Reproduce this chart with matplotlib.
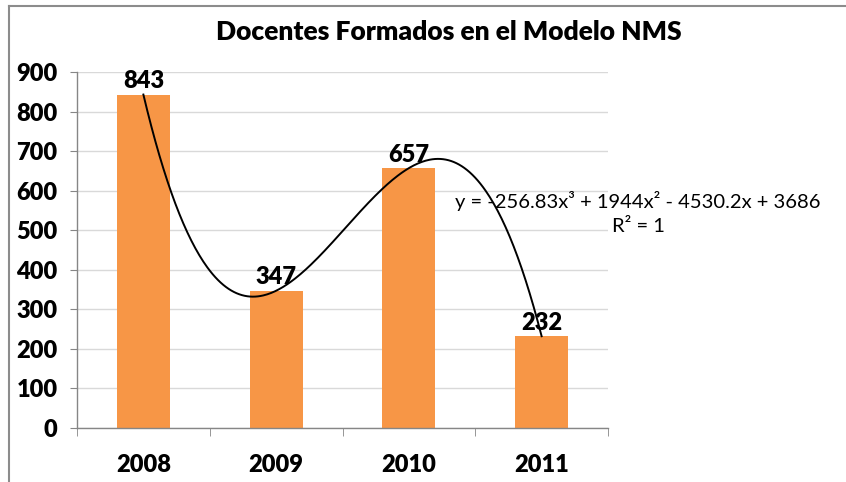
import matplotlib.pyplot as plt
import numpy as np

years = ['2008', '2009', '2010', '2011']
docentes = [843, 347, 657, 232]
title = 'Docentes Formados en el Modelo NMS'
eq_text = 'y = -256.83x³ + 1944x² - 4530.2x + 3686'
r2_text = 'R² = 1'

plt.rcParams['font.family'] = ['Lato', 'DejaVu Sans']
bold = 'heavy'

fig = plt.figure(figsize=(8.46, 4.82), dpi=100)
ax = fig.add_axes([77/846, 54/482, (608-77)/846, (428-72)/482])

x = np.arange(len(years))
ax.bar(x, docentes, width=0.4, color='#F79646', zorder=2)

# cubic trendline through the four points (Excel x = 1..4)
xs = x + 1
coef = np.polyfit(xs, docentes, 3)
xf = np.linspace(1, 4, 300)
ax.plot(xf - 1, np.polyval(coef, xf), color='black', lw=1.4, zorder=3)

for xi, v in zip(x, docentes):
    ax.text(xi, v + 6, str(v), ha='center', va='bottom', fontsize=17,
            fontweight=bold, zorder=4)

ax.set_xlim(-0.5, 3.5)
ax.set_ylim(0, 900)
ax.set_yticks(range(0, 901, 100))
ax.yaxis.grid(True, color='#D9D9D9', lw=1)
ax.set_axisbelow(True)

ax.set_xticks(x)
ax.set_xticklabels(years)
ax.set_xticks(np.arange(-0.5, 3.6, 1), minor=True)
ax.tick_params(axis='x', which='major', length=0, pad=19, labelsize=17)
ax.tick_params(axis='x', which='minor', length=6, color='#868686', direction='out')
ax.tick_params(axis='y', length=5, color='#868686', pad=9, labelsize=17)
for lab in ax.get_xticklabels() + ax.get_yticklabels():
    lab.set_fontweight(bold)

for s in ['top', 'right']:
    ax.spines[s].set_visible(False)
for s in ['left', 'bottom']:
    ax.spines[s].set_color('#868686')
    ax.spines[s].set_linewidth(1)

fig.text(449/846, 1 - 32/482, title, ha='center', va='center',
         fontsize=19, fontweight=bold)
fig.text(638/846, 1 - 201/482, eq_text, ha='center', va='center', fontsize=14.5)
fig.text(638/846, 1 - 227/482, r2_text, ha='center', va='center', fontsize=14.5)

# chart border (only top and left visible in the crop)
fig.add_artist(plt.Line2D([9/846, 1], [1 - 6/482, 1 - 6/482], transform=fig.transFigure,
                          color='#8C8C8C', lw=1.5))
fig.add_artist(plt.Line2D([9/846, 9/846], [0, 1 - 6/482], transform=fig.transFigure,
                          color='#8C8C8C', lw=1.5))

fig.savefig('out.png', dpi=100)
